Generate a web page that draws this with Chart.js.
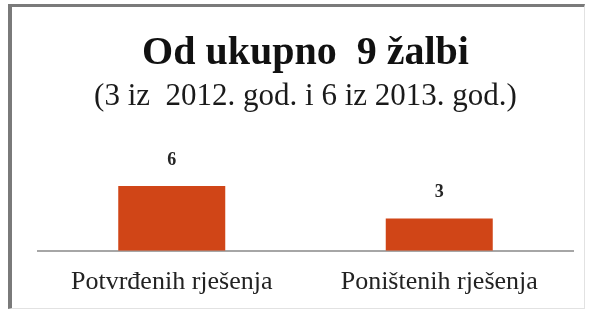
<!DOCTYPE html>
<html>
<head>
<meta charset="utf-8">
<script src="https://cdn.jsdelivr.net/npm/chart.js@4/dist/chart.umd.min.js"></script>
<style>
  html, body { margin: 0; padding: 0; background: #ffffff; }
  #wrap { position: relative; width: 590px; height: 311px; overflow: hidden; }
  #frame { position: absolute; left: 8px; top: 4px; width: 577px; height: 305px;
           border-left: 4px solid #7a7a7a; border-top: 3px solid #7a7a7a;
           border-right: 1px solid #e2e2e2; border-bottom: 1px solid #e2e2e2; box-sizing: border-box; }
  #c { position: absolute; left: 0; top: 0; }
</style>
</head>
<body>
<div id="wrap">
  <div id="frame"></div>
  <canvas id="c" width="590" height="311"></canvas>
</div>
<script>
const titleText = "Od ukupno  9 žalbi";
const subtitleText = "(3 iz  2012. god. i 6 iz 2013. god.)";
const categories = ["Potvrđenih rješenja", "Poništenih rješenja"];
const values = [6, 3];

Chart.defaults.font.family = "'Liberation Serif', 'Times New Roman', serif";

const valueLabels = {
  id: 'valueLabels',
  afterDatasetsDraw(chart) {
    const ctx = chart.ctx;
    const meta = chart.getDatasetMeta(0);
    ctx.save();
    ctx.font = "bold 18px 'Liberation Serif', serif";
    ctx.fillStyle = '#262626';
    ctx.textAlign = 'center';
    ctx.textBaseline = 'middle';
    meta.data.forEach((bar, i) => {
      ctx.fillText(String(values[i]), bar.x, bar.y - 26);
    });
    ctx.restore();
  }
};

new Chart(document.getElementById('c'), {
  type: 'bar',
  data: {
    labels: categories,
    datasets: [{
      data: values,
      backgroundColor: '#D04517',
      borderWidth: 0,
      barPercentage: 0.5,
      categoryPercentage: 0.8
    }]
  },
  options: {
    responsive: false,
    animation: false,
    layout: { padding: { left: 38, right: 17, top: 0, bottom: -3 } },
    plugins: {
      legend: { display: false },
      tooltip: { enabled: false },
      title: {
        display: true,
        text: titleText,
        color: '#111111',
        font: { size: 40, weight: 'bold' },
        padding: { top: 30, bottom: 0 }
      },
      subtitle: {
        display: true,
        text: subtitleText,
        color: '#1a1a1a',
        font: { size: 31, weight: 'normal' },
        padding: { top: 0, bottom: 60 }
      }
    },
    scales: {
      x: {
        grid: { display: false, drawTicks: false },
        border: { display: true, color: '#a6a6a6', width: 2 },
        ticks: {
          color: '#222222',
          padding: 16,
          font: { size: 26 }
        }
      },
      y: {
        display: false,
        min: 0,
        max: 7
      }
    }
  },
  plugins: [valueLabels]
});
</script>
</body>
</html>
